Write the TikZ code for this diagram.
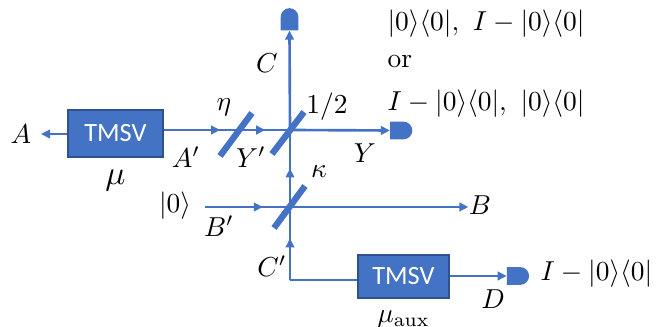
\documentclass[tikz,border=0pt]{standalone}
\usepackage{fontspec}
\newfontfamily\boxfont{Carlito}
\definecolor{optblue}{HTML}{4472C4}
\definecolor{optedge}{HTML}{2F528F}
\usetikzlibrary{arrows.meta, positioning, calc, decorations.markings, shapes.gates.logic.US}
\tikzset{
	tmsv/.style={rectangle, draw=optedge, fill=optblue, line width=0.4pt, align=center, text=white, inner sep=0pt, font=\boxfont\fontsize{7.5}{9}\selectfont},
	detector/.style={and gate US, draw=none, fill=optblue, inner sep=0pt, scale=0.35, transform shape},
	splitter/.style={draw=optblue, line width=1.8pt},
	tag/.style={inner sep=0pt, scale=0.78, transform shape},
	outcome/.style={tag, anchor=west},
	beam/.style={draw=optblue, line width=0.75pt},
	arrow/.style={beam, -{Triangle[length=0.9mm, width=0.85mm]}},
	midarrow/.style={beam, postaction={decorate}, decoration={markings, mark=at position #1 with {\arrow[optblue]{Triangle[length=0.9mm, width=0.85mm]}}}},
}

\begin{document}
\begin{tikzpicture}
		\useasboundingbox (0,0) rectangle (6.63,-3.27);
		% sources and detectors
		\node[tmsv, minimum width=0.95cm, minimum height=0.47cm] (src) at (1.155,-1.335) {TMSV};
		\node[tmsv, minimum width=0.91cm, minimum height=0.43cm] (aux) at (4.035,-2.765) {TMSV};
		\node[detector, rotate=90] (detC) at (2.895,-0.20) {};
		\node[detector] (detY) at (4.005,-1.305) {};
		\node[detector, right=0.57cm of aux.east, yshift=0.015cm] (detD) {};
		% beam splitters
		\coordinate (eta) at (2.36,-1.30);
		\coordinate (half) at (2.90,-1.30);
		\coordinate (kap) at (2.90,-2.07);
		\coordinate (corner) at (2.90,-2.80);
		\draw[splitter] ($(eta)+(-0.16,-0.26)$) -- ($(eta)+(0.16,0.17)$);
		\draw[splitter] ($(half)+(-0.18,-0.24)$) -- ($(half)+(0.14,0.18)$);
		\draw[splitter] ($(kap)+(-0.16,-0.21)$) -- ($(kap)+(0.15,0.21)$);
		% labels
		\node[tag] (A) at (0.21,-1.34) {$A$};
		\node[inner sep=0pt, below=0.12cm of src.south, scale=0.95, transform shape] (mu) {$\mu$};
		\node[tag] (Ap) at (1.86,-1.57) {$A'$};
		\node[tag] (etal) at (2.24,-1.07) {$\eta$};
		\node[tag] (Yp) at (2.51,-1.57) {$Y'$};
		\node[tag] (halfl) at (3.27,-1.07) {$1/2$};
		\node[tag] (Cl) at (2.67,-0.63) {$C$};
		\node[tag] (Yl) at (3.65,-1.53) {$Y$};
		\node[tag] (kapl) at (3.19,-1.72) {$\kappa$};
		\node[tag] (zero) at (1.75,-2.06) {$|0\rangle$};
		\node[tag] (Bp) at (2.19,-2.26) {$B'$};
		\node[tag] (B) at (4.80,-2.05) {$B$};
		\node[tag] (Cp) at (2.72,-2.66) {$C'$};
		\node[tag] (Dl) at (4.93,-2.99) {$D$};
		\node[tag, below=0.11cm of aux.south] (muaux) {$\mu_{\mathrm{aux}}$};
		\node[outcome] (outone) at (3.87,-0.24) {$|0\rangle\langle 0|,\ I-|0\rangle\langle 0|$};
		\node[outcome] (outor) at (3.87,-0.62) {or};
		\node[outcome] (outtwo) at (3.87,-1.04) {$I-|0\rangle\langle 0|,\ |0\rangle\langle 0|$};
		\node[outcome] (outD) at (5.40,-2.74) {$I-|0\rangle\langle 0|$};
		% beams
		\draw[arrow] (src.west |- 0,-1.34) -- (0.41,-1.34);
		\draw[midarrow=0.78] (src.east |- eta) -- (eta);
		\draw[midarrow=0.54] (eta) -- (half);
		\draw[arrow] (half) -- (detY.west);
		\draw[arrow] (half) -- (detC.west);
		\draw[midarrow=0.5] (kap) -- (half);
		\draw[midarrow=0.68] (2.05,-2.07) -- (kap);
		\draw[arrow] (kap) -- (B.west |- kap);
		\draw[beam] (aux.west |- corner) -- (corner);
		\draw[midarrow=0.57] (corner) -- (kap);
		\draw[arrow] (aux.east |- detD.west) -- (detD.west);
	\end{tikzpicture}
\end{document}
